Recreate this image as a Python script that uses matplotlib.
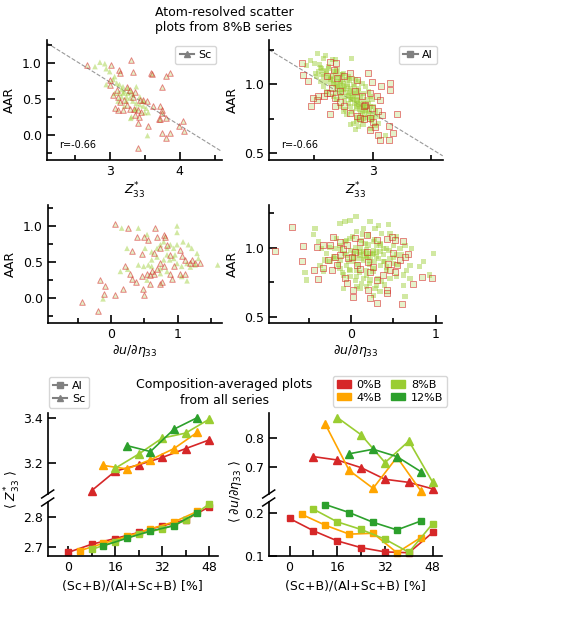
import numpy as np
import matplotlib
matplotlib.use('Agg')
import matplotlib.pyplot as plt
from matplotlib.lines import Line2D
from matplotlib.patches import Patch
from matplotlib.ticker import MultipleLocator, FixedLocator

plt.rcParams['font.size'] = 9
plt.rcParams['font.family'] = ['DejaVu Sans']

# ---------------- data: atom-resolved (8%B series) ----------------
# Sc atoms: Z*33 vs AAR (plain markers / red-edged markers)
sc_z_g = [2.86, 2.93, 2.79, 2.95, 3.0, 3.07, 3.05, 3.10, 3.14, 3.19, 2.95, 3.17, 3.21, 3.26, 3.31, 3.38,
          3.17, 3.24, 3.29, 3.33, 3.38, 3.43, 3.48, 3.52, 3.55, 3.50, 3.38, 3.31, 3.30, 3.21, 3.12, 3.07,
          3.54, 3.24, 3.33, 3.26, 3.19, 3.13, 3.43, 3.36, 3.48]
sc_aar_g = [1.01, 0.99, 0.95, 0.92, 0.88, 0.81, 0.77, 0.72, 0.70, 0.67, 0.70, 0.63, 0.60, 0.58, 0.60, 0.67,
            0.53, 0.53, 0.51, 0.47, 0.44, 0.42, 0.40, 0.37, 0.31, 0.31, 0.37, 0.25, 0.23, 0.40, 0.47, 0.58,
            -0.01, 0.47, 0.56, 0.65, 0.58, 0.58, 0.53, 0.35, 0.47]
sc_z_r = [2.68, 3.02, 3.13, 3.14, 3.31, 3.33, 3.59, 3.60, 3.80, 3.86, 3.74, 3.0, 3.01, 3.10, 3.12, 3.14,
          3.12, 3.19, 3.25, 3.29, 3.35, 3.40, 3.36, 3.42, 3.45, 3.48, 3.53, 3.62, 3.72, 3.75, 3.74, 3.70,
          3.72, 3.81, 3.54, 3.40, 3.75, 3.86, 3.80, 3.99, 4.05, 4.06, 3.41, 3.24, 3.29, 3.36, 3.33, 3.43,
          3.21, 3.07, 3.05]
sc_aar_r = [0.97, 0.97, 0.90, 0.86, 1.04, 0.88, 0.86, 0.85, 0.82, 0.86, 0.67, 0.70, 0.77, 0.63, 0.53, 0.46,
            0.35, 0.35, 0.42, 0.36, 0.36, 0.34, 0.28, 0.25, 0.32, 0.49, 0.47, 0.40, 0.40, 0.35, 0.30, 0.22,
            0.22, 0.24, 0.12, 0.16, 0.03, 0.03, -0.05, 0.12, 0.19, 0.06, -0.18, 0.67, 0.63, 0.60, 0.53, 0.49,
            0.49, 0.37, 0.56]

# Sc atoms: du/deta33 vs AAR
sc_du_g = [0.16, 0.41, 0.99, 0.99, 0.54, 0.24, 0.51, 0.61, 0.69, 0.74, 0.79, 0.84, 0.89, 0.94, 0.99, 1.08,
           1.16, 1.21, 1.29, 1.31, 1.26, 1.19, 1.14, 1.06, 0.99, 0.94, 0.84, 0.79, 0.69, 0.61, 0.56, 0.49,
           0.61, 0.74, 0.84, 0.74, 0.54, 0.41, 0.14, 0.25, 1.06, 1.14, 1.60, -0.12, 0.88, 0.96]
sc_aar2_g = [0.97, 0.97, 1.00, 0.91, 0.88, 0.69, 0.69, 0.64, 0.69, 0.74, 0.78, 0.69, 0.74, 0.69, 0.74, 0.78,
             0.74, 0.69, 0.62, 0.55, 0.46, 0.43, 0.48, 0.44, 0.48, 0.55, 0.60, 0.53, 0.57, 0.53, 0.46, 0.44,
             0.44, 0.41, 0.37, 0.34, 0.25, 0.46, 0.37, 0.40, 0.30, 0.24, 0.46, -0.01, 0.53, 0.60]
sc_du_r = [0.06, 0.26, 0.66, 0.39, 0.49, 0.56, 0.69, 0.79, 0.81, 0.84, 0.31, 0.46, 0.64, 0.74, 0.89, 1.04,
           1.06, 1.11, 1.21, 1.26, 1.33, 1.19, 0.94, 0.74, 0.69, 0.79, 0.21, 0.29, 0.31, 0.38, 0.46, 0.54,
           0.61, 0.59, 0.64, 0.89, 0.91, 1.04, 1.11, 0.58, 0.76, 0.74, -0.17, -0.09, -0.11, 0.06, -0.43,
           -0.19, 0.18, 0.48, 0.50]
sc_aar2_r = [1.03, 0.97, 0.97, 0.84, 0.84, 0.81, 0.84, 0.87, 0.84, 0.74, 0.65, 0.61, 0.62, 0.69, 0.60, 0.67,
             0.58, 0.53, 0.53, 0.48, 0.49, 0.48, 0.44, 0.48, 0.41, 0.44, 0.44, 0.34, 0.26, 0.23, 0.31, 0.34,
             0.37, 0.32, 0.33, 0.34, 0.27, 0.34, 0.34, 0.19, 0.22, 0.19, 0.25, 0.17, 0.06, 0.04, -0.05,
             -0.18, 0.12, 0.12, 0.04]

# Al atoms: Z*33 vs AAR
al_z_g = [2.526, 2.578, 2.598, 2.655, 2.678, 2.816, 2.468, 2.500, 2.434, 2.543, 2.563, 2.621, 2.664, 2.721,
          2.750, 2.793, 2.822, 2.851, 2.879, 2.908, 2.937, 2.966, 2.980, 2.994, 3.009, 3.023, 2.937, 2.894,
          2.865, 2.836, 2.807, 2.851, 2.879, 2.917, 2.980, 3.052, 3.109, 2.750, 2.779, 2.693, 2.664, 2.606,
          2.578, 2.549, 2.520, 2.578, 2.635, 2.693, 2.750, 2.807, 2.865, 2.922, 2.951, 2.793, 2.721, 2.764,
          2.822, 2.865, 2.635, 2.592, 2.563, 2.534, 2.506, 2.664, 2.693, 2.721, 2.750, 2.779, 2.807, 2.836,
          2.865, 2.894, 2.721, 2.764, 2.822, 2.865, 2.908, 2.649, 2.678, 2.606, 2.693, 2.736, 2.779, 2.836,
          2.879, 2.922, 2.951, 2.980, 2.966, 2.922, 2.994, 3.037, 2.807, 2.707,
          2.60, 2.62, 2.64, 2.66, 2.68, 2.70, 2.70, 2.72, 2.73, 2.74, 2.76, 2.77, 2.78, 2.79, 2.80, 2.81,
          2.82, 2.83, 2.84, 2.85, 2.86, 2.87, 2.88, 2.89, 2.90, 2.91, 2.92, 2.93, 2.94, 2.96, 2.97, 2.99,
          2.76, 2.72, 2.68, 2.84, 2.80, 2.88, 2.58, 2.55, 2.62, 2.69, 2.74, 2.96, 3.00, 3.02, 2.86, 2.90]
al_aar_g = [1.225, 1.188, 1.205, 1.181, 1.181, 1.184, 1.169, 1.152, 1.135, 1.140, 1.116, 1.116, 1.092, 1.068,
            1.080, 1.056, 1.043, 1.031, 1.019, 1.007, 0.983, 0.947, 0.911, 0.886, 0.838, 0.802, 0.814, 0.790,
            0.754, 0.717, 0.705, 0.669, 0.693, 0.705, 0.681, 0.717, 0.626, 0.802, 0.778, 0.886, 0.911, 0.947,
            0.983, 1.019, 1.056, 1.056, 1.031, 0.983, 0.959, 0.911, 0.886, 0.862, 0.838, 0.862, 0.838, 0.814,
            0.802, 0.826, 1.007, 1.019, 1.068, 1.092, 1.080, 1.007, 1.019, 0.995, 1.007, 0.983, 0.971, 0.947,
            0.935, 0.911, 0.935, 0.911, 0.886, 0.862, 0.838, 1.056, 1.068, 1.092, 1.104, 1.031, 1.031, 0.995,
            0.971, 0.935, 0.886, 0.838, 0.790, 0.754, 0.754, 0.766, 0.838, 0.959,
            1.08, 1.05, 1.04, 1.03, 1.00, 1.05, 0.98, 1.02, 0.96, 0.99, 0.97, 0.94, 1.00, 0.92, 0.95, 0.89,
            0.93, 0.90, 0.86, 0.91, 0.84, 0.88, 0.85, 0.82, 0.87, 0.80, 0.83, 0.78, 0.81, 0.76, 0.80, 0.74,
            0.88, 0.91, 0.94, 0.98, 1.03, 0.95, 1.10, 1.12, 1.13, 1.09, 1.07, 0.86, 0.78, 0.70, 0.73, 0.74]
al_z_r = [2.391, 2.448, 2.399, 2.468, 2.520, 2.491, 2.534, 2.578, 2.606, 2.635, 2.678, 2.716, 2.629, 2.678,
          2.750, 2.807, 2.865, 2.894, 2.922, 2.980, 3.003, 3.023, 2.980, 3.043, 3.066, 3.138, 3.172, 3.138,
          3.210, 3.080, 3.043, 2.994, 2.937, 2.957, 2.994, 3.072, 3.147, 3.147, 3.066, 3.037, 2.980, 2.922,
          2.865, 2.807, 2.750, 2.693, 2.664, 2.635, 2.687, 2.606, 2.649, 2.721, 2.851, 2.908]
al_aar_r = [1.152, 1.024, 1.068, 0.843, 0.886, 0.899, 0.911, 0.911, 0.935, 0.935, 0.899, 0.874, 0.785, 0.838,
            0.838, 0.790, 0.766, 0.754, 0.746, 0.754, 0.729, 0.686, 0.669, 0.633, 0.597, 0.597, 0.645, 0.698,
            0.783, 0.778, 0.802, 0.826, 0.850, 1.080, 1.019, 0.988, 1.007, 0.959, 0.886, 0.911, 0.935, 0.838,
            1.031, 1.080, 1.056, 1.043, 1.104, 1.164, 1.152, 1.056, 0.971, 0.947, 0.947, 0.911]

# Al atoms: du/deta33 vs AAR
al_du_g = [0.059, -0.012, -0.071, -0.130, 0.224, 0.323, 0.441, -0.425, -0.445, -0.386, -0.346, -0.287, -0.307,
           -0.366, -0.248, -0.189, -0.130, -0.071, -0.012, 0.067, 0.146, 0.283, 0.362, 0.461, 0.539, 0.638,
           0.717, 0.579, 0.500, 0.421, 0.343, 0.264, 0.185, 0.106, 0.028, -0.051, -0.130, -0.091, -0.012,
           0.067, 0.146, 0.224, 0.303, 0.362, 0.461, 0.539, 0.618, 0.657, 0.697, 0.815, 0.854, 0.980, 0.933,
           0.638, 0.343, 0.283, 0.264, 0.185, 0.106, 0.126, -0.091, -0.327, -0.543, -0.524, 0.618, 0.697,
           0.067, 0.106, 0.146, 0.185, 0.224, 0.264, 0.303, 0.146, 0.224, 0.067, 0.028, 0.303, 0.343, 0.382,
           0.264, 0.165, -0.051, -0.130, -0.209, 0.382, 0.461, 0.539, 0.264, 0.185, 0.067, -0.012, 0.421,
           0.500, -0.169, 0.205,
           0.00, 0.05, 0.10, 0.12, 0.15, 0.18, 0.20, 0.22, 0.25, 0.28, 0.30, 0.33, 0.35, 0.38, 0.40, 0.08,
           0.03, -0.03, -0.08, -0.12, -0.15, -0.20, -0.05, 0.02, 0.12, 0.20, 0.28, 0.35, 0.45, 0.50, 0.10,
           0.18, 0.26, 0.32, 0.05, -0.02, -0.10, 0.42, 0.55, 0.14, -0.25, 0.60, 0.07, 0.22, 0.40]
al_aar2_g = [1.225, 1.200, 1.188, 1.176, 1.188, 1.164, 1.169, 1.140, 1.097, 1.043, 0.995, 0.959, 0.911,
             0.874, 0.899, 0.995, 1.019, 1.043, 1.068, 1.116, 1.140, 1.140, 1.104, 1.104, 1.080, 1.019,
             0.995, 0.995, 1.019, 0.995, 0.971, 0.959, 0.935, 0.947, 0.899, 0.874, 0.850, 0.802, 0.790,
             0.790, 0.778, 0.766, 0.729, 0.754, 0.778, 0.790, 0.802, 0.838, 0.874, 0.862, 0.903, 0.959, 0.802,
             0.645, 0.681, 0.705, 0.657, 0.717, 0.705, 0.742, 0.705, 0.826, 0.821, 0.766, 0.729, 0.778,
             0.971, 0.995, 0.971, 0.947, 0.959, 0.983, 0.935, 0.911, 0.911, 0.923, 0.959, 1.019, 1.031, 0.995,
             1.043, 1.031, 0.947, 0.911, 0.935, 0.899, 0.923, 0.947, 0.850, 0.838, 0.838, 0.838, 0.838,
             0.886, 1.068, 1.092,
             0.98, 1.00, 0.97, 0.92, 0.96, 0.99, 0.93, 0.88, 0.95, 0.90, 0.97, 0.92, 0.87, 0.95, 0.90, 0.88,
             0.93, 0.90, 0.96, 0.99, 0.88, 0.92, 1.05, 1.08, 1.05, 1.02, 1.06, 1.02, 0.98, 0.93, 0.82,
             0.80, 0.83, 0.78, 0.76, 0.84, 0.82, 0.86, 0.88, 1.10, 1.00, 0.95, 0.72, 0.74, 0.73]
al_du_r = [-0.701, -0.563, -0.406, -0.327, -0.248, -0.209, -0.130, -0.575, -0.433, -0.386, -0.327, -0.268,
           -0.189, -0.091, -0.031, 0.008, 0.047, 0.067, 0.106, 0.185, 0.205, 0.224, 0.264, 0.311, 0.421,
           0.480, 0.520, 0.618, 0.677, 0.500, 0.441, 0.461, 0.520, 0.539, 0.579, 0.638, -0.071, -0.051,
           0.028, 0.028, 0.205, 0.224, 0.311, 0.421, 0.421, 0.598, 0.736, 0.835, 0.953, 0.185, 0.106, 0.047,
           -0.051, -0.130, -0.169, -0.228, 0.303, 0.382, -0.90]
al_aar2_r = [1.152, 1.012, 1.002, 1.019, 1.019, 1.075, 1.043, 0.903, 0.838, 0.773, 0.850, 0.915, 0.935,
             0.990, 0.923, 0.935, 0.971, 0.874, 0.845, 0.971, 0.899, 0.826, 0.862, 1.056, 1.060, 1.080,
             1.056, 1.048, 0.952, 0.959, 0.886, 0.838, 0.826, 0.874, 0.911, 0.935, 0.778, 0.742, 0.693, 0.645,
             0.693, 0.633, 0.597, 0.693, 0.669, 0.589, 0.734, 0.790, 0.778, 1.092, 1.043, 1.068, 1.019, 0.947,
             0.874, 0.838, 0.766, 0.802, 0.98]

# regression lines (slope, intercept) and correlation labels
sc_fit = (-0.604, 2.548)
al_fit = (-0.516, 2.338)
sc_r = "r=-0.66"
al_r = "r=-0.66"

# ---------------- data: composition-averaged ----------------
series_names = ['0%B', '4%B', '8%B', '12%B']
series_colors = ['#d62728', '#ffa500', '#9acd32', '#2ca02c']
al_comp = [[0, 8, 16, 24, 32, 40, 48], [4, 12, 20, 28, 36, 44], [8, 16, 24, 32, 40, 48], [12, 20, 28, 36, 44]]
sc_comp = [[8, 16, 24, 32, 40, 48], [12, 20, 28, 36, 44], [16, 24, 32, 40, 48], [20, 28, 36, 44]]
z_al = [[2.682, 2.709, 2.728, 2.748, 2.770, 2.790, 2.833],
        [2.688, 2.712, 2.735, 2.760, 2.783, 2.818],
        [2.692, 2.718, 2.742, 2.760, 2.788, 2.842],
        [2.704, 2.729, 2.753, 2.770, 2.814]]
z_sc = [[3.080, 3.165, 3.193, 3.225, 3.264, 3.302],
        [3.190, 3.175, 3.215, 3.264, 3.336],
        [3.178, 3.240, 3.310, 3.332, 3.393],
        [3.277, 3.251, 3.349, 3.400]]
du_al = [[0.188, 0.159, 0.135, 0.119, 0.109, 0.107, 0.155],
         [0.198, 0.172, 0.151, 0.153, 0.107, 0.143],
         [0.210, 0.180, 0.162, 0.139, 0.108, 0.176],
         [0.221, 0.202, 0.179, 0.161, 0.182]]
du_sc = [[0.735, 0.723, 0.696, 0.655, 0.644, 0.621],
         [0.849, 0.686, 0.623, 0.733, 0.614],
         [0.873, 0.812, 0.714, 0.790, 0.644],
         [0.745, 0.761, 0.735, 0.682]]

# ---------------- figure ----------------
W, H = 581, 622
fig = plt.figure(figsize=(W / 100, H / 100), dpi=100)


def ax_px(x0, y0, x1, y1):
    return fig.add_axes([x0 / W, 1 - y1 / H, (x1 - x0) / W, (y1 - y0) / H])


def style(ax, lw=1.2):
    for s in ['top', 'right']:
        ax.spines[s].set_visible(False)
    for s in ['left', 'bottom']:
        ax.spines[s].set_linewidth(lw)
    ax.tick_params(which='major', direction='in', length=6, width=1.2, labelsize=9)
    ax.tick_params(which='minor', direction='in', length=3.5, width=1.2)


green_face = (0.604, 0.804, 0.196, 0.45)
red_face = (0.604, 0.804, 0.196, 0.25)
red_edge = (0.84, 0.15, 0.16, 0.55)


def scatter_pair(ax, xg, yg, xr, yr, marker, s):
    ax.scatter(xg, yg, marker=marker, s=s, facecolor=green_face, edgecolor='none', zorder=2)
    ax.scatter(xr, yr, marker=marker, s=s, facecolor=red_face, edgecolor=red_edge, linewidths=0.7, zorder=3)


# top-left: Sc Z*
ax1 = ax_px(46.7, 40, 221.7, 160)
style(ax1)
scatter_pair(ax1, sc_z_g, sc_aar_g, sc_z_r, sc_aar_r, '^', 16)
ax1.set_xlim(2.1, 4.6)
ax1.set_ylim(-0.35, 1.32)
xx = np.array(ax1.get_xlim())
ax1.plot(xx, sc_fit[0] * xx + sc_fit[1], ls='--', color='gray', lw=0.8, alpha=0.8, zorder=1)
ax1.xaxis.set_major_locator(FixedLocator([3, 4]))
ax1.xaxis.set_minor_locator(FixedLocator([2.5, 3.5, 4.5]))
ax1.yaxis.set_major_locator(MultipleLocator(0.5))
ax1.yaxis.set_minor_locator(MultipleLocator(0.25))
ax1.set_ylabel('AAR')
ax1.set_xlabel(r'$Z^{*}_{33}$', labelpad=2)
ax1.text(0.07, 0.1, sc_r, transform=ax1.transAxes, fontsize=7)
ax1.legend(handles=[Line2D([], [], color='gray', marker='^', lw=1.5, ms=5)], labels=['Sc'],
           loc='upper right', fontsize=8, handlelength=1.3, borderpad=0.4, handletextpad=0.4)

# top-right: Al Z*
ax2 = ax_px(269, 40, 442.7, 160)
style(ax2)
scatter_pair(ax2, al_z_g, al_aar_g, al_z_r, al_aar_r, 's', 14)
ax2.set_xlim(2.11, 3.6)
ax2.set_ylim(0.45, 1.32)
xx = np.array(ax2.get_xlim())
ax2.plot(xx, al_fit[0] * xx + al_fit[1], ls='--', color='gray', lw=0.8, alpha=0.8, zorder=1)
ax2.xaxis.set_major_locator(FixedLocator([3]))
ax2.xaxis.set_minor_locator(FixedLocator([2.5, 3.5]))
ax2.yaxis.set_major_locator(MultipleLocator(0.5))
ax2.yaxis.set_minor_locator(MultipleLocator(0.25))
ax2.set_ylabel('AAR')
ax2.set_xlabel(r'$Z^{*}_{33}$', labelpad=2)
ax2.text(0.07, 0.1, al_r, transform=ax2.transAxes, fontsize=7)
ax2.legend(handles=[Line2D([], [], color='gray', marker='s', lw=1.5, ms=5)], labels=['Al'],
           loc='upper right', fontsize=8, handlelength=1.3, borderpad=0.4, handletextpad=0.4)

# middle-left: Sc du
ax3 = ax_px(47.7, 205, 221.7, 322.7)
style(ax3)
scatter_pair(ax3, sc_du_g, sc_aar2_g, sc_du_r, sc_aar2_r, '^', 16)
ax3.set_xlim(-0.95, 1.66)
ax3.set_ylim(-0.34, 1.29)
ax3.xaxis.set_major_locator(FixedLocator([0, 1]))
ax3.xaxis.set_minor_locator(FixedLocator([-0.5, 0.5, 1.5]))
ax3.yaxis.set_major_locator(MultipleLocator(0.5))
ax3.yaxis.set_minor_locator(MultipleLocator(0.25))
ax3.set_ylabel('AAR')
ax3.set_xlabel(r'$\partial u/\partial \eta_{33}$', labelpad=2)

# middle-right: Al du
ax4 = ax_px(269, 205, 442.3, 322.7)
style(ax4)
scatter_pair(ax4, al_du_g, al_aar2_g, al_du_r, al_aar2_r, 's', 14)
ax4.set_xlim(-0.97, 1.08)
ax4.set_ylim(0.457, 1.31)
ax4.xaxis.set_major_locator(FixedLocator([0, 1]))
ax4.xaxis.set_minor_locator(FixedLocator([-0.5, 0.5]))
ax4.yaxis.set_major_locator(MultipleLocator(0.5))
ax4.yaxis.set_minor_locator(MultipleLocator(0.25))
ax4.set_ylabel('AAR')
ax4.set_xlabel(r'$\partial u/\partial \eta_{33}$', labelpad=2)

fig.text(224 / W, 1 - 20 / H, 'Atom-resolved scatter\nplots from 8%B series', ha='center', va='center',
         fontsize=9, linespacing=1.25)

# ---------------- bottom: broken axes ----------------
def broken(x0, x1, ylim_top, ylim_bot, yt_top, yt_bot):
    at = ax_px(x0, 413, x1, 494)
    ab = ax_px(x0, 502, x1, 555.7)
    for a in (at, ab):
        style(a)
        a.set_xlim(-7, 51)
    at.set_ylim(*ylim_top)
    ab.set_ylim(*ylim_bot)
    at.yaxis.set_major_locator(FixedLocator(yt_top))
    ab.yaxis.set_major_locator(FixedLocator(yt_bot))
    at.spines['bottom'].set_visible(False)
    at.tick_params(axis='x', which='both', bottom=False, labelbottom=False)
    ab.xaxis.set_major_locator(MultipleLocator(16))
    ab.xaxis.set_minor_locator(MultipleLocator(8))
    ab.tick_params(axis='x', which='major', length=7)
    ab.tick_params(axis='x', which='minor', length=4)
    # break marks
    dx, dy = 6 / (x1 - x0), 4
    for a, yy in ((at, 0.0), (ab, 1.0)):
        hpx = a.get_position().height * H
        d = dy / hpx
        a.plot([-dx, dx], [yy - d, yy + d], transform=a.transAxes, color='k', lw=1.1, clip_on=False)
    return at, ab


axt, axb = broken(47.7, 218, (3.065, 3.42), (2.671, 2.849), [3.2, 3.4], [2.7, 2.8])
for c, xa, ya, xs, ys in zip(series_colors, al_comp, z_al, sc_comp, z_sc):
    axb.plot(xa, ya, color=c, marker='s', ms=5, lw=1.2, clip_on=False)
    axt.plot(xs, ys, color=c, marker='^', ms=5.5, lw=1.2, clip_on=False)
axb.set_xlabel('(Sc+B)/(Al+Sc+B) [%]')
fig.text(12.5 / W, 1 - 490 / H, r'$\langle\ Z^{*}_{33}\ \rangle$', rotation=90, ha='center', va='center',
         fontsize=9)

axt2, axb2 = broken(268.7, 441.7, (0.603, 0.889), (0.1, 0.227), [0.7, 0.8], [0.1, 0.2])
for c, xa, ya, xs, ys in zip(series_colors, al_comp, du_al, sc_comp, du_sc):
    axb2.plot(xa, ya, color=c, marker='s', ms=5, lw=1.2, clip_on=False)
    axt2.plot(xs, ys, color=c, marker='^', ms=5.5, lw=1.2, clip_on=False)
axb2.set_xlabel('(Sc+B)/(Al+Sc+B) [%]')
fig.text(235 / W, 1 - 491 / H, r'$\langle\ \partial u/\partial \eta_{33}\ \rangle$', rotation=90,
         ha='center', va='center', fontsize=9)

fig.text(224 / W, 1 - 392.5 / H, 'Composition-averaged plots\nfrom all series', ha='center', va='center',
         fontsize=9, linespacing=1.25)

fig.legend(handles=[Line2D([], [], color='gray', marker='s', lw=1.5, ms=5),
                    Line2D([], [], color='gray', marker='^', lw=1.5, ms=5)],
           labels=['Al', 'Sc'], loc='upper left', bbox_to_anchor=(49 / W, 1 - 377 / H), fontsize=8,
           handlelength=1.3, borderpad=0.35, labelspacing=0.25, handletextpad=0.4, borderaxespad=0)
fig.legend(handles=[Patch(color=c) for c in series_colors], labels=series_names, ncol=2,
           loc='upper left', bbox_to_anchor=(332.7 / W, 1 - 376 / H), fontsize=8,
           handlelength=1.3, handleheight=0.6, borderpad=0.35, labelspacing=0.25, handletextpad=0.5,
           columnspacing=0.8, borderaxespad=0)

fig.savefig('out.png', dpi=100)
